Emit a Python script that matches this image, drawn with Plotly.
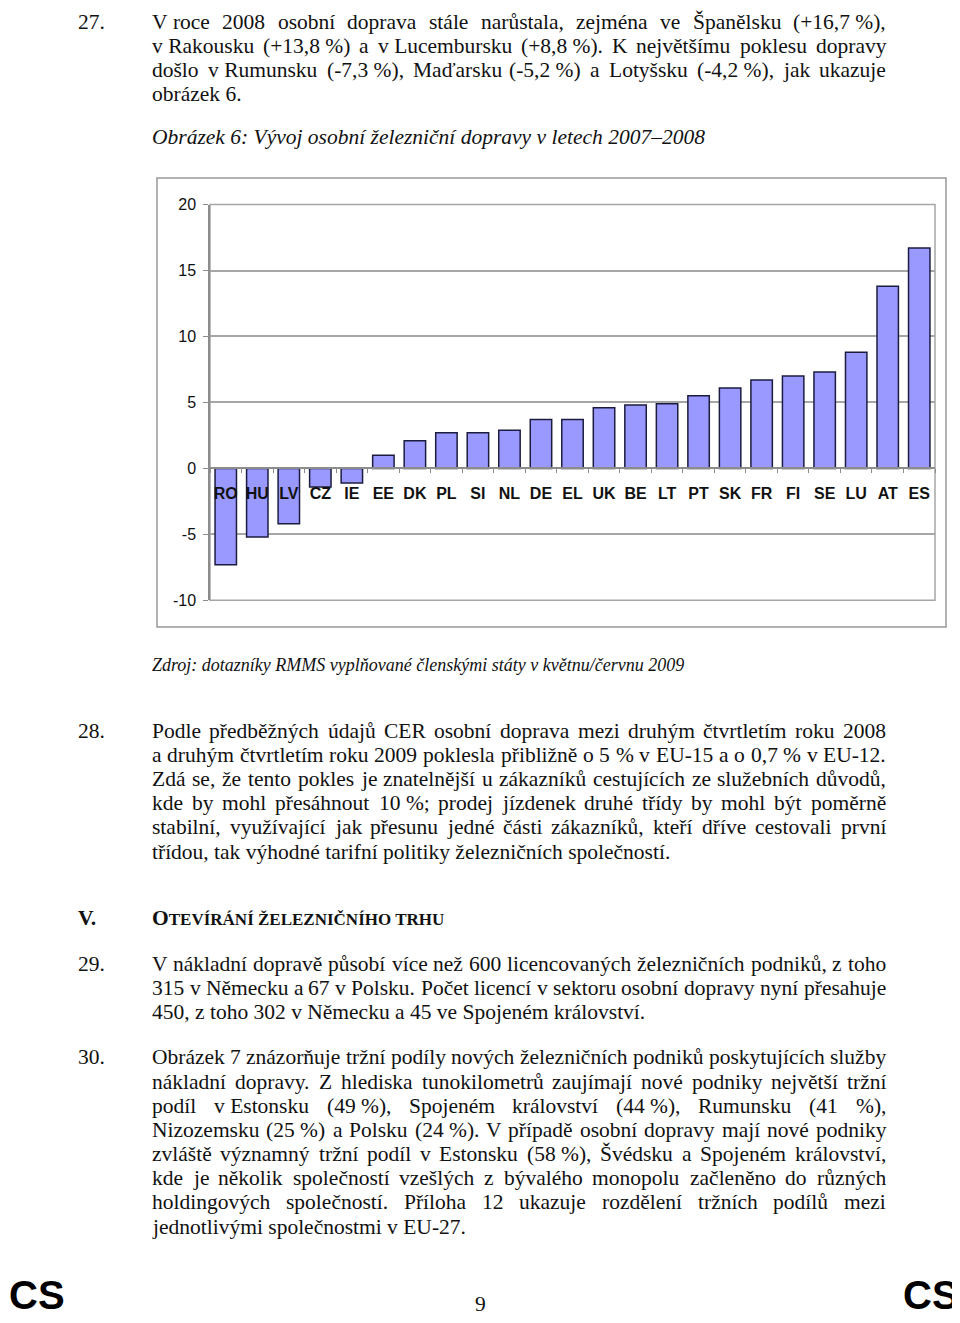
import unicodedata
import plotly.graph_objects as go

# country codes and change of passenger rail traffic 2007-2008 (%)
countries = ['RO', 'HU', 'LV', 'CZ', 'IE', 'EE', 'DK', 'PL', 'SI', 'NL', 'DE', 'EL',
             'UK', 'BE', 'LT', 'PT', 'SK', 'FR', 'FI', 'SE', 'LU', 'AT', 'ES']
change = [-7.3, -5.2, -4.2, -1.4, -1.1, 1.0, 2.1, 2.7, 2.7, 2.9, 3.7, 3.7,
          4.6, 4.8, 4.9, 5.5, 6.1, 6.7, 7.0, 7.3, 8.8, 13.8, 16.7]
y_ticks = [-10, -5, 0, 5, 10, 15, 20]
y_tick_labels = ['-10', '-5', '0', '5', '10', '15', '20']

NB = '\u00a0'
para27 = ['V' + NB + 'roce 2008 osobní doprava stále narůstala, zejména ve Španělsku (+16,7' + NB + '%),',
          'v' + NB + 'Rakousku (+13,8' + NB + '%) a v' + NB + 'Lucembursku (+8,8' + NB + '%). K největšímu poklesu dopravy',
          'došlo v' + NB + 'Rumunsku (-7,3' + NB + '%), Maďarsku (-5,2' + NB + '%) a Lotyšsku (-4,2' + NB + '%), jak ukazuje',
          'obrázek 6.']
para28 = ['Podle předběžných údajů CER osobní doprava mezi druhým čtvrtletím roku 2008',
          'a druhým čtvrtletím roku 2009 poklesla přibližně o 5 % v EU-15 a o 0,7 % v EU-12.',
          'Zdá se, že tento pokles je znatelnější u zákazníků cestujících ze služebních důvodů,',
          'kde by mohl přesáhnout 10' + NB + '%; prodej jízdenek druhé třídy by mohl být poměrně',
          'stabilní, využívající jak přesunu jedné části zákazníků, kteří dříve cestovali první',
          'třídou, tak výhodné tarifní politiky železničních společností.']
para29 = ['V nákladní dopravě působí více než 600 licencovaných železničních podniků, z toho',
          '315 v Německu a 67 v Polsku. Počet licencí v sektoru osobní dopravy nyní přesahuje',
          '450, z toho 302 v Německu a 45 ve Spojeném království.']
para30 = ['Obrázek 7 znázorňuje tržní podíly nových železničních podniků poskytujících služby',
          'nákladní dopravy. Z hlediska tunokilometrů zaujímají nové podniky největší tržní',
          'podíl v' + NB + 'Estonsku (49' + NB + '%), Spojeném království (44' + NB + '%), Rumunsku (41 %),',
          'Nizozemsku (25' + NB + '%) a Polsku (24' + NB + '%). V případě osobní dopravy mají nové podniky',
          'zvláště významný tržní podíl v Estonsku (58' + NB + '%), Švédsku a Spojeném království,',
          'kde je několik společností vzešlých z bývalého monopolu začleněno do různých',
          'holdingových společností. Příloha 12 ukazuje rozdělení tržních podílů mezi',
          'jednotlivými společnostmi v' + NB + 'EU-27.']

# the page body adds an 8px margin, so the figure is drawn 8px smaller and shifted
OFF = 8
W_PX, H_PX = 960 - OFF, 1323 - OFF
FS = 21.5
SERIF = 'Liberation Serif'
SANS = 'Liberation Sans'
LEFT, RIGHT = 151, 885

# rough Times widths (1/1000 em) used to justify lines
widths = dict(zip('abcdefghijklmnopqrstuvwxyz',
                  [444, 500, 444, 500, 444, 333, 500, 500, 278, 278, 500, 278, 778,
                   500, 500, 500, 500, 333, 389, 278, 500, 500, 722, 500, 500, 444]))
widths.update(zip('ABCDEFGHIJKLMNOPQRSTUVWXYZ',
                  [722, 667, 667, 722, 611, 556, 722, 722, 333, 389, 722, 611, 889,
                   722, 722, 556, 722, 667, 556, 611, 722, 722, 944, 722, 722, 611]))
widths.update({c: 500 for c in '0123456789'})
widths.update({' ': 250, NB: 250, '.': 250, ',': 250, ':': 278, ';': 278, '-': 333,
               '(': 333, ')': 333, '%': 833, '/': 278, '+': 564, '–': 500})


def text_w(s):
    tot = 0
    for ch in s:
        base = unicodedata.normalize('NFD', ch)[0]
        tot += widths.get(base, 500)
    return tot * FS / 1000


def px(x, y):
    # screen pixels -> paper coordinates
    return (x - OFF) / W_PX, 1 - (y - OFF) / H_PX


annotations = []


def add_text(x, y, text, size=FS, family=SERIF, anchor='left', color='#111'):
    xp, yp = px(x, y)
    annotations.append(dict(x=xp, y=yp, xref='paper', yref='paper', text=text,
                            showarrow=False, xanchor=anchor, yanchor='middle',
                            borderpad=0, font=dict(family=family, size=size, color=color)))


def add_para(num, lines, y0, step=24.5):
    add_text(77, y0, num)
    for i, line in enumerate(lines):
        y = y0 + i * step
        words = line.split(' ')
        if i == len(lines) - 1 or len(words) < 2:
            add_text(LEFT, y, line)
            continue
        ww = [text_w(w) for w in words]
        gap = (RIGHT - LEFT - sum(ww)) / (len(words) - 1)
        x = LEFT
        for w, wl in zip(words, ww):
            add_text(x, y, w)
            x += wl + gap


add_para('27.', para27, 14)
add_text(LEFT, 131, '<i>Obrázek 6: Vývoj osobní železniční dopravy v letech 2007–2008</i>')
add_text(LEFT, 665, '<i>Zdroj: dotazníky RMMS vyplňované členskými státy v květnu/červnu 2009</i>', size=18)
add_para('28.', para28, 732)
add_text(77, 922, '<b>V.</b>')
add_text(LEFT, 922, "<b>O<span style='font-size:17px'>TEVÍRÁNÍ ŽELEZNIČNÍHO TRHU</span></b>")
add_para('29.', para29, 968)
add_para('30.', para30, 1063)
add_text(OFF, 1304, '<b>CS</b>', size=40, family=SANS, color='#000')
add_text(960, 1304, '<b>CS</b>', size=40, family=SANS, color='#000', anchor='right')
add_text(480, 1313, '9', anchor='center')

fig = go.Figure(go.Bar(x=countries, y=change, width=0.68,
                       marker=dict(color='#9999ff', line=dict(color='#1c1c40', width=1.5))))

x0, x1 = 210, 935
y0, y1 = 199, 600
ax0, ay_bot = px(x0, y1)
ax1, ay_top = px(x1, y0)

fig.update_layout(
    width=W_PX, height=H_PX,
    margin=dict(l=0, r=0, t=0, b=0),
    paper_bgcolor='white', plot_bgcolor='white',
    showlegend=False,
    annotations=annotations,
    xaxis=dict(domain=[ax0, ax1], anchor='free', position=ay_bot + (ay_top - ay_bot) / 3,
               showline=True, linecolor='#8c8c8c', linewidth=1.5,
               ticks='outside', tickson='boundaries', ticklen=4, tickcolor='#8c8c8c',
               ticklabelstandoff=11, tickangle=0,
               tickfont=dict(family=SANS, size=16, color='#111', weight='bold'),
               showgrid=False, range=[-0.5, len(countries) - 0.5]),
    yaxis=dict(domain=[ay_bot, ay_top], range=[-10, 20],
               tickvals=y_ticks, ticktext=y_tick_labels,
               showline=True, linecolor='#8c8c8c', linewidth=1.5,
               ticks='outside', ticklen=5, tickcolor='#8c8c8c', ticklabelstandoff=4,
               showgrid=True, gridcolor='#a6a6a6', gridwidth=1.5, zeroline=False,
               tickfont=dict(family=SANS, size=16, color='#111')),
    shapes=[
        dict(type='rect', xref='paper', yref='paper', x0=px(157, 0)[0], x1=px(946, 0)[0],
             y0=px(0, 627)[1], y1=px(0, 172)[1], line=dict(color='#999999', width=1.5)),
        dict(type='rect', xref='paper', yref='paper', x0=ax0, x1=ax1, y0=ay_bot, y1=ay_top,
             line=dict(color='#a6a6a6', width=1.5), layer='below'),
    ],
)

fig.write_html('out.html')
